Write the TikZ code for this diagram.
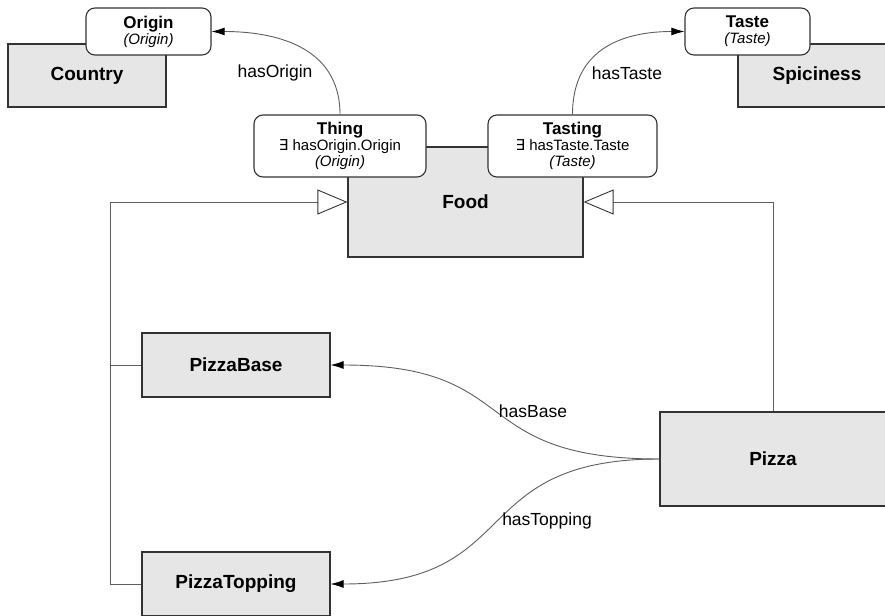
\documentclass[tikz,border=0pt]{standalone}
\usepackage{fontspec}
\setmainfont{Liberation Sans}
\newfontfamily\dejavu{DejaVu Sans}
\usetikzlibrary{arrows.meta}
\definecolor{boxfill}{HTML}{E6E6E6}
\definecolor{boxline}{HTML}{333333}
\definecolor{conn}{HTML}{5E5E5E}
\begin{document}
\begin{tikzpicture}[x=1pt,y=-1pt,
  cls/.style={draw=boxline,line width=1.1pt,fill=boxfill,inner sep=0pt,
    font=\fontsize{19}{22}\selectfont\bfseries},
  rbox/.style={draw=boxline,line width=1.1pt,fill=white,rounded corners=9pt,
    inner sep=0pt,align=center,font=\fontsize{15}{16}\selectfont},
  rel/.style={draw=conn,line width=0.9pt,-{Latex[length=13pt,width=8pt,color=black]}},
  isa/.style={draw=conn,line width=0.9pt,-{Triangle[open,length=30pt,width=25pt,color=boxline]}},
  isaline/.style={draw=conn,line width=0.9pt},
  lbl/.style={font=\fontsize{17.5}{20}\selectfont,text=black,inner sep=0pt}
]
\clip (0,0) rectangle (885,615);

% classes with their restriction nodes
\node[cls,minimum width=158pt,minimum height=63pt] (country) at (87,75.5) {Country};
\node[rbox,minimum width=125pt,minimum height=47pt] (origin) at (148.5,31.5)
  {{\fontsize{17}{16}\selectfont\bfseries Origin}\\\textit{(Origin)}};

\node[cls,minimum width=158pt,minimum height=63pt] (spic) at (817,75.5) {Spiciness};
\node[rbox,minimum width=125pt,minimum height=47pt] (taste) at (747.5,31.5)
  {{\fontsize{17}{16}\selectfont\bfseries Taste}\\\textit{(Taste)}};

\node[cls,minimum width=235pt,minimum height=110pt] (food) at (465.5,202) {Food};
\node[rbox,minimum width=172pt,minimum height=62pt] (thing) at (340,146)
  {{\fontsize{17}{16}\selectfont\bfseries Thing}\\{\dejavu ∃} hasOrigin.Origin\\\textit{(Origin)}};
\node[rbox,minimum width=169pt,minimum height=62pt] (tasting) at (572.5,146)
  {{\fontsize{17}{16}\selectfont\bfseries Tasting}\\{\dejavu ∃} hasTaste.Taste\\\textit{(Taste)}};

\node[cls,minimum width=188pt,minimum height=64pt] (pbase) at (236,365) {PizzaBase};
\node[cls,minimum width=188pt,minimum height=64pt] (ptop) at (236,584) {PizzaTopping};
\node[cls,minimum width=226pt,minimum height=94pt] (pizza) at (773,459) {Pizza};

% subclass links
\draw[isa] (ptop.west) -- ++(-31,0) |- (food.west);
\draw[isaline] (pbase.west) -- ++(-31,0);
\draw[isa] (pizza.north) |- (food.east);

% properties
\draw[rel] (thing.north) .. controls +(0,-70) and +(60,0) .. (origin.east);
\draw[rel] (tasting.north) .. controls +(0,-70) and +(-55,0) .. (taste.west);
\draw[rel] (pizza.west) .. controls +(-195,0) and +(195,0) .. (pbase.east);
\draw[rel] (pizza.west) .. controls +(-195,0) and +(195,0) .. (ptop.east);

\node[lbl] (lorigin) at (275,73) {hasOrigin};
\node[lbl] (ltaste) at (627,73) {hasTaste};
\node[lbl] (lbase) at (533,411) {hasBase};
\node[lbl] (ltop) at (547,521) {hasTopping};
\end{tikzpicture}
\end{document}
